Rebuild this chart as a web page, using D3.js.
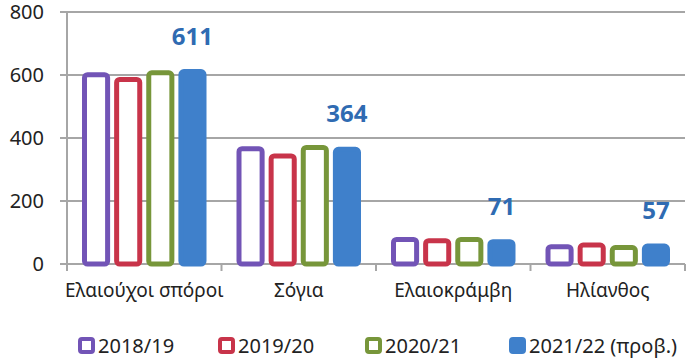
<!DOCTYPE html>
<html>
<head>
<meta charset="utf-8">
<script src="https://cdn.jsdelivr.net/npm/d3@7"></script>
<style>
  body { margin: 0; background: #fff; }
  text { font-family: "Noto Sans", "Open Sans", sans-serif; }
</style>
</head>
<body>
<div id="chart"></div>
<script>
var categories = ["Ελαιούχοι σπόροι", "Σόγια", "Ελαιοκράμβη", "Ηλίανθος"];
var seriesNames = ["2018/19", "2019/20", "2020/21", "2021/22 (προβ.)"];
var values2018 = [601, 366, 78, 55];
var values2019 = [586, 343, 74, 60];
var values2020 = [607, 370, 78, 52];
var values2021 = [611, 364, 71, 57];
var yTicks = [0, 200, 400, 600, 800];

var colors = ["#7254b6", "#c8344a", "#77963a", "#3f80cb"];
var outlined = [true, true, true, false];
var allValues = [values2018, values2019, values2020, values2021];

var width = 700, height = 362;
var margin = {top: 12, right: 15, bottom: 98, left: 67};

var svg = d3.select("#chart").append("svg")
    .attr("width", width)
    .attr("height", height);

var x0 = d3.scaleBand()
    .domain(categories)
    .range([margin.left, width - margin.right]);

var x1 = d3.scaleBand()
    .domain(seriesNames)
    .range([15, x0.bandwidth() - 15])
    .paddingInner(0.125);

var y = d3.scaleLinear()
    .domain([0, 800])
    .range([height - margin.bottom, margin.top]);

// gridlines
svg.append("g")
  .selectAll("line")
  .data(yTicks)
  .enter().append("line")
    .attr("x1", margin.left - 7)
    .attr("x2", width - margin.right)
    .attr("y1", function(d) { return y(d); })
    .attr("y2", function(d) { return y(d); })
    .attr("stroke", "#a6a6a6")
    .attr("stroke-width", 2);

// y axis labels
svg.append("g")
  .selectAll("text")
  .data(yTicks)
  .enter().append("text")
    .attr("x", 44)
    .attr("y", function(d) { return y(d); })
    .attr("dy", "0.36em")
    .attr("text-anchor", "end")
    .style("font-size", "20px")
    .attr("fill", "#222")
    .text(function(d) { return d; });

// y axis line
svg.append("line")
    .attr("x1", margin.left).attr("x2", margin.left)
    .attr("y1", y(800)).attr("y2", y(0) + 7)
    .attr("stroke", "#a6a6a6")
    .attr("stroke-width", 2);

// category ticks
var bounds = categories.map(function(c) { return x0(c); });
bounds.push(x0(categories[categories.length - 1]) + x0.bandwidth());
svg.append("g")
  .selectAll("line")
  .data(bounds.slice(1))
  .enter().append("line")
    .attr("x1", function(d) { return d; })
    .attr("x2", function(d) { return d; })
    .attr("y1", y(0))
    .attr("y2", y(0) + 7)
    .attr("stroke", "#a6a6a6")
    .attr("stroke-width", 2);

// bars
var groups = svg.append("g")
  .selectAll("g")
  .data(categories)
  .enter().append("g")
    .attr("transform", function(d) { return "translate(" + x0(d) + ",0)"; });

groups.selectAll("rect")
  .data(function(d, i) {
    return seriesNames.map(function(s, j) { return {series: s, idx: j, value: allValues[j][i]}; });
  })
  .enter().append("rect")
    .attr("x", function(d) { return x1(d.series) + 2.5; })
    .attr("y", function(d) { return y(d.value); })
    .attr("width", x1.bandwidth() - 5)
    .attr("height", function(d) { return y(0) - y(d.value); })
    .attr("rx", 3)
    .attr("fill", function(d) { return outlined[d.idx] ? "#fff" : colors[d.idx]; })
    .attr("stroke", function(d) { return colors[d.idx]; })
    .attr("stroke-width", 5);

// value labels for latest season
groups.append("text")
    .attr("x", x1(seriesNames[3]) + x1.bandwidth() / 2)
    .attr("y", function(d, i) { return y(values2021[i]) - 27; })
    .attr("text-anchor", "middle")
    .style("font-size", "24px")
    .style("font-weight", "bold")
    .attr("fill", "#2f6bb2")
    .text(function(d, i) { return values2021[i]; });

// category labels
groups.append("text")
    .attr("x", x0.bandwidth() / 2)
    .attr("y", 297)
    .attr("text-anchor", "middle")
    .style("font-size", "19px")
    .attr("fill", "#222")
    .text(function(d) { return d; });

// legend
var legendX = [78, 218, 365, 509];
var legend = svg.append("g")
  .selectAll("g")
  .data(seriesNames)
  .enter().append("g")
    .attr("transform", function(d, i) { return "translate(" + legendX[i] + ",337)"; });

legend.append("rect")
    .attr("x", 2).attr("y", 2)
    .attr("width", 13).attr("height", 13)
    .attr("rx", 2)
    .attr("fill", function(d, i) { return outlined[i] ? "#fff" : colors[i]; })
    .attr("stroke", function(d, i) { return colors[i]; })
    .attr("stroke-width", 4);

legend.append("text")
    .attr("x", 20)
    .attr("y", 16)
    .style("font-size", "20px")
    .attr("fill", "#222")
    .text(function(d) { return d; });
</script>
</body>
</html>
